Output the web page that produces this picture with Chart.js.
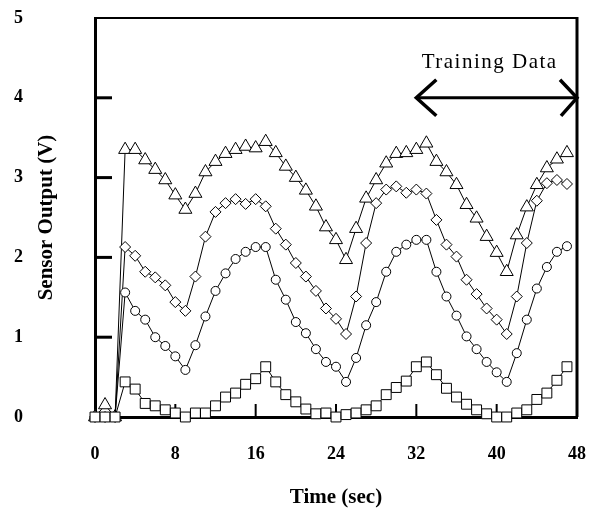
<!DOCTYPE html>
<html>
<head>
<meta charset="utf-8">
<script src="https://cdn.jsdelivr.net/npm/chart.js@4/dist/chart.umd.min.js"></script>
<style>
  body { margin: 0; background: #fff; }
  canvas { display: block; }
</style>
</head>
<body>
<canvas id="grafico-sensore" width="589" height="510"></canvas>
<script>
const tempi = [0, 1, 2, 3, 4, 5, 6, 7, 8, 9, 10, 11, 12, 13, 14, 15, 16, 17, 18, 19, 20, 21, 22, 23,
  24, 25, 26, 27, 28, 29, 30, 31, 32, 33, 34, 35, 36, 37, 38, 39, 40, 41, 42, 43, 44, 45, 46, 47];

const triangoli = [0, 0.15, 0, 3.35, 3.35, 3.22, 3.10, 2.97, 2.78, 2.60, 2.80, 3.07, 3.20, 3.30, 3.35, 3.39,
  3.37, 3.45, 3.31, 3.14, 3.00, 2.84, 2.64, 2.38, 2.22, 1.97, 2.36, 2.74, 2.97, 3.18, 3.30, 3.31,
  3.35, 3.43, 3.20, 3.07, 2.91, 2.66, 2.49, 2.26, 2.06, 1.82, 2.28, 2.63, 2.91, 3.12, 3.23, 3.31];

const rombi = [0, 0, 0, 2.13, 2.02, 1.82, 1.75, 1.65, 1.44, 1.33, 1.76, 2.26, 2.57, 2.68, 2.73, 2.67,
  2.73, 2.64, 2.36, 2.16, 1.93, 1.76, 1.58, 1.36, 1.23, 1.04, 1.51, 2.18, 2.68, 2.85, 2.89, 2.81,
  2.85, 2.80, 2.47, 2.16, 2.01, 1.72, 1.54, 1.36, 1.22, 1.04, 1.51, 2.18, 2.71, 2.93, 2.97, 2.92];

const cerchi = [0, 0, 0, 1.56, 1.33, 1.22, 1.00, 0.89, 0.76, 0.59, 0.90, 1.26, 1.58, 1.80, 1.98, 2.07,
  2.13, 2.13, 1.72, 1.47, 1.19, 1.05, 0.85, 0.69, 0.63, 0.44, 0.74, 1.15, 1.44, 1.82, 2.07, 2.16,
  2.22, 2.22, 1.82, 1.51, 1.27, 1.01, 0.85, 0.69, 0.56, 0.44, 0.80, 1.22, 1.61, 1.88, 2.07, 2.14];

const quadrati = [0, 0, 0, 0.44, 0.35, 0.17, 0.14, 0.09, 0.05, 0.0, 0.05, 0.05, 0.14, 0.25, 0.30, 0.41,
  0.48, 0.63, 0.44, 0.28, 0.19, 0.10, 0.04, 0.05, 0.0, 0.03, 0.05, 0.09, 0.14, 0.28, 0.37, 0.45,
  0.63, 0.69, 0.53, 0.36, 0.25, 0.16, 0.09, 0.04, 0.0, 0.0, 0.05, 0.09, 0.22, 0.30, 0.46, 0.63];

const xTicks = [0, 8, 16, 24, 32, 40, 48];
const yTicks = [0, 1, 2, 3, 4, 5];

// intervallo dei dati di training (secondi) e livello della freccia (V)
const trainingRange = [32, 48];
const trainingLivello = [4];
const trainingLabel = 'Training Data';

const SERIF = "'Liberation Serif', 'Times New Roman', serif";

function serie(valori, stile, raggio) {
  return {
    data: valori.map((v, i) => ({ x: tempi[i], y: v })),
    pointStyle: stile,
    pointRadius: raggio,
    pointBackgroundColor: '#fff',
    pointBorderColor: '#000',
    pointBorderWidth: 1,
    borderColor: '#000',
    borderWidth: 1,
    tension: 0,
    fill: false,
    clip: false
  };
}

const cornice = {
  id: 'cornice',
  beforeDatasetsDraw(chart) {
    const { ctx, chartArea: a, scales: { x, y } } = chart;
    ctx.save();
    ctx.strokeStyle = '#000';
    ctx.lineWidth = 2;
    ctx.beginPath();
    ctx.moveTo(a.left, a.top);
    ctx.lineTo(a.right, a.top);
    ctx.stroke();
    ctx.lineWidth = 3;
    ctx.beginPath();
    ctx.moveTo(a.right, a.top - 1);
    ctx.lineTo(a.right, a.bottom);
    ctx.stroke();

    // tacche interne
    ctx.lineWidth = 3;
    yTicks.slice(1, -1).forEach(v => {
      const py = y.getPixelForValue(v);
      ctx.beginPath();
      ctx.moveTo(a.left, py);
      ctx.lineTo(a.left + 17, py);
      ctx.stroke();
    });
    ctx.lineWidth = 2;
    xTicks.slice(1, -1).forEach(v => {
      const px = x.getPixelForValue(v);
      ctx.beginPath();
      ctx.moveTo(px, a.bottom);
      ctx.lineTo(px, a.bottom - 13);
      ctx.stroke();
    });
    ctx.restore();
  },
  afterDraw(chart) {
    const { ctx, scales: { x, y } } = chart;
    const x1 = x.getPixelForValue(trainingRange[0]);
    const x2 = x.getPixelForValue(trainingRange[1]);
    const py = y.getPixelForValue(trainingLivello[0]);
    ctx.save();
    ctx.strokeStyle = '#000';
    ctx.lineWidth = 3;
    ctx.beginPath();
    ctx.moveTo(x1, py);
    ctx.lineTo(x2, py);
    ctx.stroke();
    ctx.lineWidth = 3.5;
    ctx.beginPath();
    ctx.moveTo(x1 + 20, py - 18);
    ctx.lineTo(x1, py);
    ctx.lineTo(x1 + 20, py + 18);
    ctx.moveTo(x2 - 17, py - 18);
    ctx.lineTo(x2, py);
    ctx.lineTo(x2 - 16, py + 18);
    ctx.stroke();

    ctx.fillStyle = '#000';
    ctx.font = '21px ' + SERIF;
    ctx.letterSpacing = '1.5px';
    ctx.textAlign = 'center';
    ctx.textBaseline = 'alphabetic';
    ctx.fillText(trainingLabel, (x1 + x2) / 2 - 7, py - 30);
    ctx.restore();
  }
};

const fontTick = { family: SERIF, weight: 'bold', size: 18 };
const fontTitolo = { family: SERIF, weight: 'bold', size: 21 };

new Chart(document.getElementById('grafico-sensore').getContext('2d'), {
  type: 'line',
  data: {
    datasets: [
      serie(quadrati, 'rect', 7),
      serie(cerchi, 'circle', 4.5),
      serie(rombi, 'rectRot', 5.5),
      serie(triangoli, 'triangle', 7.5)
    ]
  },
  options: {
    responsive: false,
    animation: false,
    layout: { padding: { top: 18, right: 12, left: 0, bottom: 0 } },
    plugins: {
      legend: { display: false },
      tooltip: { enabled: false }
    },
    scales: {
      x: {
        type: 'linear',
        min: 0,
        max: 48,
        afterBuildTicks: s => { s.ticks = xTicks.map(v => ({ value: v })); },
        afterFit: s => {
          s.height = 93;
          s.paddingLeft = 0;
          s.paddingRight = 0;
        },
        grid: { display: false, drawTicks: false },
        border: { display: true, width: 3, color: '#000' },
        ticks: { color: '#000', padding: 27, maxRotation: 0, font: fontTick },
        title: { display: true, text: 'Time (sec)', color: '#000', font: fontTitolo, padding: { top: 0, bottom: 0 } }
      },
      y: {
        min: 0,
        max: 5,
        afterBuildTicks: s => { s.ticks = yTicks.map(v => ({ value: v })); },
        afterFit: s => {
          s.width = 95;
          s.paddingTop = 0;
          s.paddingBottom = 0;
        },
        grid: { display: false, drawTicks: false },
        border: { display: true, width: 3, color: '#000' },
        ticks: { color: '#000', padding: 72, font: fontTick },
        title: { display: true, text: 'Sensor Output (V)', color: '#000', font: fontTitolo, padding: { top: 34, bottom: 0 } }
      }
    }
  },
  plugins: [cornice]
});
</script>
</body>
</html>
